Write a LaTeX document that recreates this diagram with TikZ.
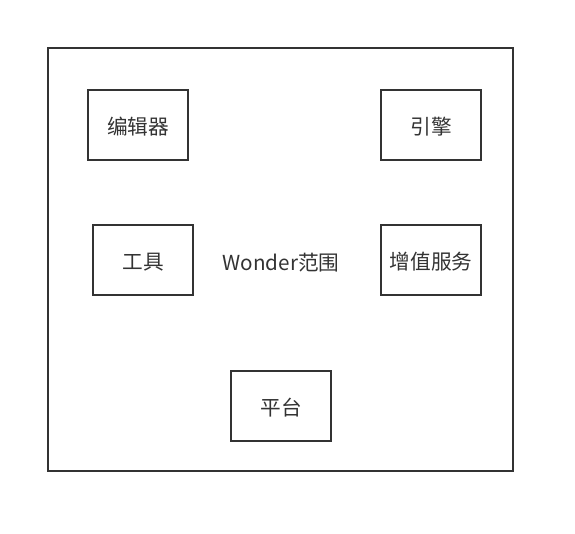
\documentclass[tikz,border=0pt]{standalone}
\usepackage{fontspec}
\setmainfont{Noto Sans CJK SC}
\definecolor{ln}{HTML}{333333}
\begin{document}
\begin{tikzpicture}[x=0.75pt,y=-0.75pt,
  txt/.style={text=ln,font=\fontsize{15.5pt}{17pt}\selectfont,text height=15pt,text depth=1pt,inner sep=0pt},
  boxst/.style={txt,draw=ln,line width=1.3pt,minimum width=75pt,minimum height=52.5pt},
  frame/.style={draw=ln,line width=1.3pt}]
\useasboundingbox (0,0) rectangle (575,534);
\node[frame,minimum width=348.75pt,minimum height=317.25pt,inner sep=0pt] (outer) at (280.5,259.5) {};
\node[boxst] (bj) at (138,125) {编辑器};
\node[boxst] (yq) at (431,125) {引擎};
\node[boxst] (gj) at (143,260) {工具};
\node[boxst] (zz) at (431,260) {增值服务};
\node[boxst] (pt) at (281,406) {平台};
\node[txt] (lbl) at (281,261) {Wonder范围};
\end{tikzpicture}
\end{document}
